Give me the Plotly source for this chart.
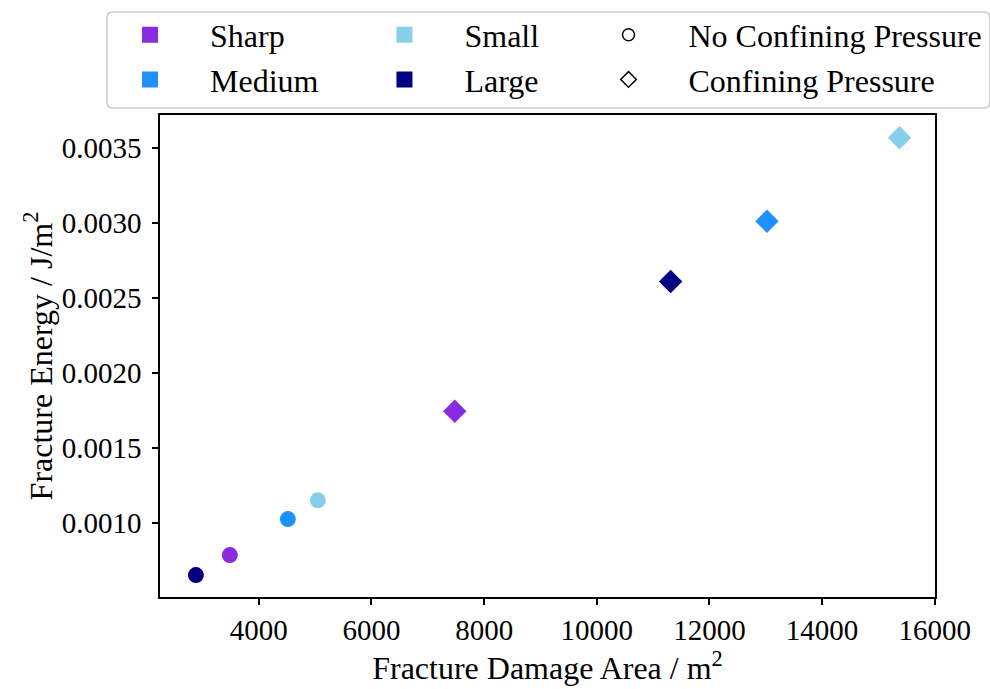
import plotly.graph_objects as go

sizes = ["Sharp", "Medium", "Small", "Large"]
colors = {"Sharp": "#8A2BE2", "Medium": "#1E90FF", "Small": "#87CEEB", "Large": "#000080"}
# [no confining pressure, confining pressure]
area = {
    "Sharp": [3485, 7478],
    "Medium": [4515, 13021],
    "Small": [5047, 15376],
    "Large": [2882, 11311],
}
energy = {
    "Sharp": [0.000785, 0.001745],
    "Medium": [0.001025, 0.003013],
    "Small": [0.00115, 0.00357],
    "Large": [0.000651, 0.002611],
}
conditions = ["No Confining Pressure", "Confining Pressure"]
symbols = ["circle", "diamond"]

FONT = "Liberation Serif, Times New Roman, serif"
fig = go.Figure()

for s in sizes:
    fig.add_trace(go.Scatter(
        x=area[s], y=energy[s], mode="markers",
        marker=dict(color=colors[s], symbol=symbols, size=[16, 18], opacity=1, line=dict(width=0)),
        showlegend=False, name=s))

legend_of = {"Sharp": "legend", "Medium": "legend", "Small": "legend2", "Large": "legend2"}
for s in sizes:
    fig.add_trace(go.Scatter(
        x=[None], y=[None], mode="markers", name=s, legend=legend_of[s],
        marker=dict(color=colors[s], symbol="square", size=22, opacity=1)))
for c, sym in zip(conditions, symbols):
    fig.add_trace(go.Scatter(
        x=[None], y=[None], mode="markers", name=c, legend="legend3",
        marker=dict(color="black", symbol=sym + "-open", size=12, opacity=1,
                    line=dict(color="black", width=1.5))))

leg = dict(font=dict(family=FONT, size=32, color="black"), bgcolor="rgba(0,0,0,0)",
           borderwidth=0, yanchor="top", xanchor="left", itemwidth=110, tracegroupgap=0)
axis = dict(showline=True, linecolor="black", linewidth=1.5, mirror=True, ticks="outside",
            ticklen=6, tickwidth=1.5, tickcolor="black", showgrid=False, zeroline=False,
            tickfont=dict(family=FONT, size=29, color="black"))

# rounded legend frame in paper coordinates
x0, x1, y0, y1 = -0.0684, 1.071, 1.0145, 1.2137
rx, ry = 0.008, 0.0125
frame = (f"M {x0+rx},{y1} L {x1-rx},{y1} Q {x1},{y1} {x1},{y1-ry} L {x1},{y0+ry} "
         f"Q {x1},{y0} {x1-rx},{y0} L {x0+rx},{y0} Q {x0},{y0} {x0},{y0+ry} "
         f"L {x0},{y1-ry} Q {x0},{y1} {x0+rx},{y1} Z")

fig.update_layout(
    width=990, height=689, margin=dict(l=160, r=55, t=115, b=92, autoexpand=False),
    paper_bgcolor="white", plot_bgcolor="white",
    font=dict(family=FONT, size=29, color="black"),
    xaxis=dict(axis, range=[2245, 16005], tickvals=[4000, 6000, 8000, 10000, 12000, 14000, 16000],
               tickformat="d", automargin=False,
               title=dict(text="Fracture Damage Area / m<sup>2</sup>", font=dict(family=FONT, size=32), standoff=8)),
    yaxis=dict(axis, range=[0.000505, 0.003722], tickvals=[0.001, 0.0015, 0.002, 0.0025, 0.003, 0.0035],
               tickformat=".4f", ticklabelstandoff=5, automargin=False,
               title=dict(text="Fracture Energy / J/m<sup>2</sup>", font=dict(family=FONT, size=32), standoff=0)),
    legend=dict(leg, x=-0.0903, y=1.223),
    legend2=dict(leg, x=0.2380, y=1.223),
    legend3=dict(leg, x=0.5271, y=1.223),
    shapes=[dict(type="path", xref="paper", yref="paper", path=frame,
                 line=dict(color="#cccccc", width=1.5), fillcolor="rgba(0,0,0,0)")],
)

fig.write_html("out.html")
